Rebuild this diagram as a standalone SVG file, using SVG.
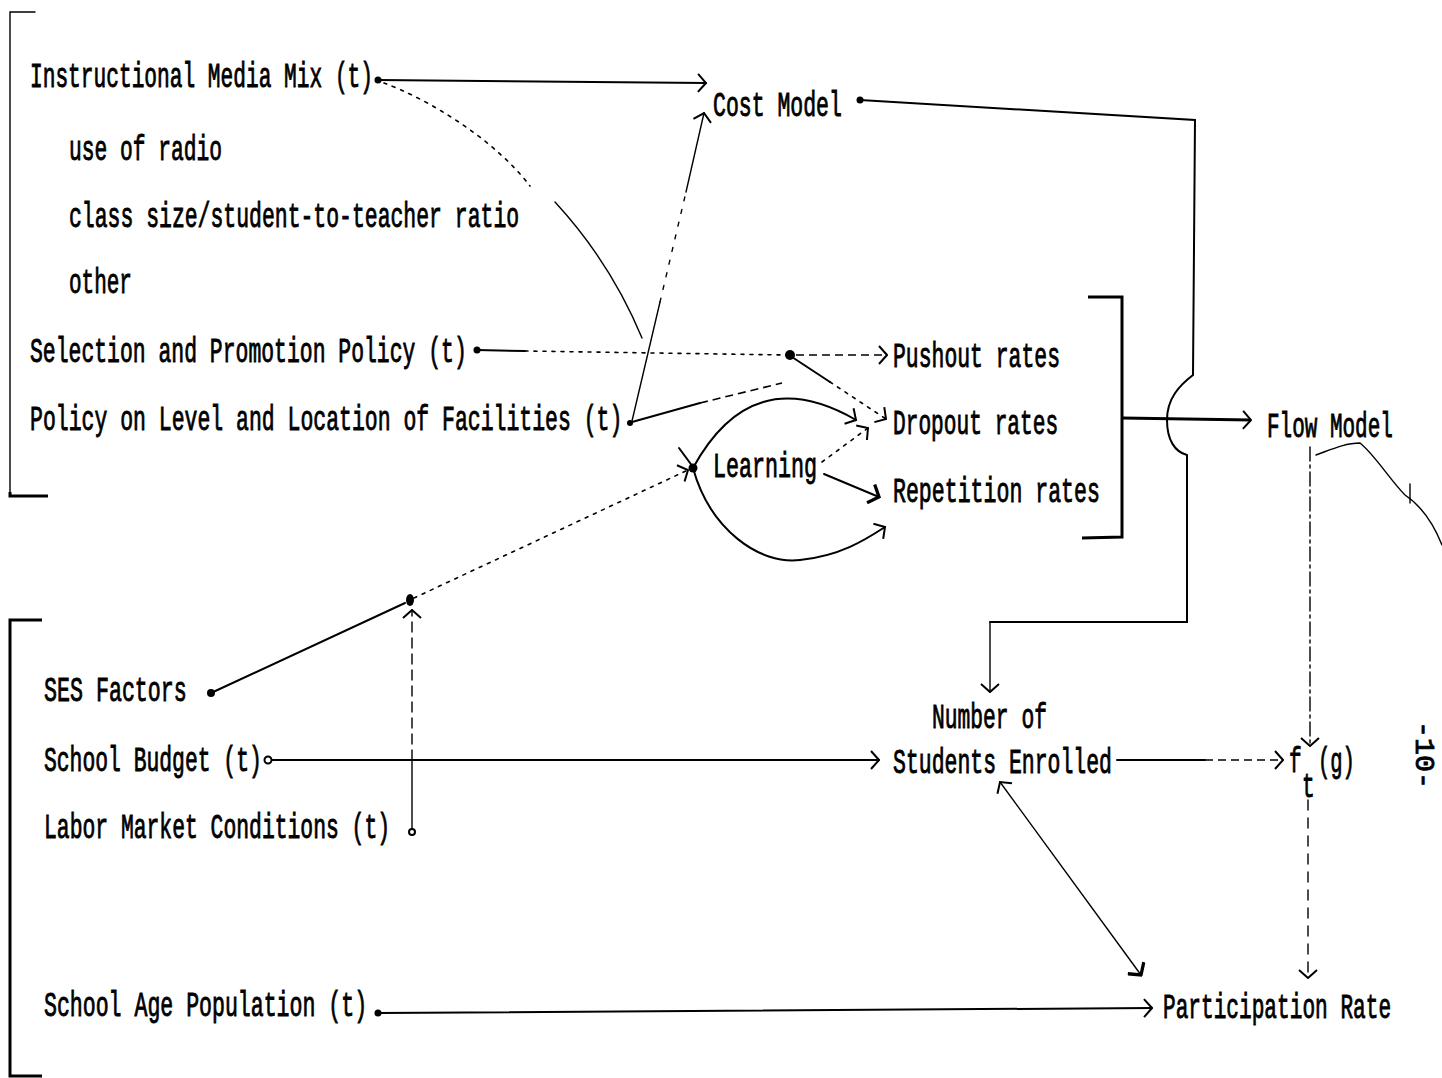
<svg xmlns="http://www.w3.org/2000/svg" width="1442" height="1078" viewBox="0 0 1442 1078">
<defs>
<style>
.t{font-family:"Liberation Mono","DejaVu Sans Mono",monospace;font-size:35px;fill:#000;stroke:#000;stroke-width:0.9}
.ln{fill:none;stroke:#000;stroke-width:2;stroke-linecap:round}
.th{fill:none;stroke:#000;stroke-width:1.4;stroke-linecap:round}
.bk{fill:none;stroke:#000;stroke-width:3}
.dt{fill:none;stroke:#000;stroke-width:1.6;stroke-dasharray:3 6;stroke-linecap:round}
.ds{fill:none;stroke:#000;stroke-width:1.6;stroke-dasharray:8 5}
.dot{fill:#000}
</style>
<marker id="ah" viewBox="0 0 10 20" refX="9" refY="10" markerWidth="10" markerHeight="20" markerUnits="userSpaceOnUse" orient="auto-start-reverse">
<path d="M1,1 L9,10 L1,19" fill="none" stroke="#000" stroke-width="2"/>
</marker>
<marker id="ahb" viewBox="0 0 10 20" refX="9" refY="10" markerWidth="12" markerHeight="22" markerUnits="userSpaceOnUse" orient="auto-start-reverse">
<path d="M1,1 L9,10 L1,19" fill="none" stroke="#000" stroke-width="3"/>
</marker>
</defs>
<rect width="1442" height="1078" fill="#fff"/>

<g id="brackets">
<path class="th" d="M35,12 L10,12 L10,492"/>
<path class="bk" d="M10,492 L10,496 L48,496"/>
<path class="bk" d="M42,620 L10,620 L10,1076 L42,1076"/>
<path class="bk" d="M1088,297 L1122,297 L1122,537 L1082,538"/>
</g>

<g id="n-media"><text class="t" transform="translate(30,87) scale(0.605,1)" textLength="567" lengthAdjust="spacingAndGlyphs">Instructional Media Mix (t)</text></g>
<g id="n-radio"><text class="t" transform="translate(69,160) scale(0.605,1)" textLength="253" lengthAdjust="spacingAndGlyphs">use of radio</text></g>
<g id="n-class"><text class="t" transform="translate(69,227) scale(0.605,1)" textLength="744" lengthAdjust="spacingAndGlyphs">class size/student-to-teacher ratio</text></g>
<g id="n-other"><text class="t" transform="translate(69,293) scale(0.605,1)" textLength="104" lengthAdjust="spacingAndGlyphs">other</text></g>
<g id="n-selection"><text class="t" transform="translate(30,362) scale(0.605,1)" textLength="722" lengthAdjust="spacingAndGlyphs">Selection and Promotion Policy (t)</text></g>
<g id="n-facilities"><text class="t" transform="translate(30,430) scale(0.605,1)" textLength="979" lengthAdjust="spacingAndGlyphs">Policy on Level and Location of Facilities (t)</text></g>
<g id="n-cost"><text class="t" transform="translate(713,116) scale(0.605,1)" textLength="213" lengthAdjust="spacingAndGlyphs">Cost Model</text></g>
<g id="n-pushout"><text class="t" transform="translate(893,367) scale(0.605,1)" textLength="276" lengthAdjust="spacingAndGlyphs">Pushout rates</text></g>
<g id="n-dropout"><text class="t" transform="translate(893,434) scale(0.605,1)" textLength="273" lengthAdjust="spacingAndGlyphs">Dropout rates</text></g>
<g id="n-repetition"><text class="t" transform="translate(893,502) scale(0.605,1)" textLength="342" lengthAdjust="spacingAndGlyphs">Repetition rates</text></g>
<g id="n-learning"><text class="t" transform="translate(713,477) scale(0.605,1)" textLength="172" lengthAdjust="spacingAndGlyphs">Learning</text></g>
<g id="n-flow"><text class="t" transform="translate(1267,437) scale(0.605,1)" textLength="208" lengthAdjust="spacingAndGlyphs">Flow Model</text></g>
<g id="n-ses"><text class="t" transform="translate(44,701) scale(0.605,1)" textLength="236" lengthAdjust="spacingAndGlyphs">SES Factors</text></g>
<g id="n-budget"><text class="t" transform="translate(44,771) scale(0.605,1)" textLength="360" lengthAdjust="spacingAndGlyphs">School Budget (t)</text></g>
<g id="n-labor"><text class="t" transform="translate(44,838) scale(0.605,1)" textLength="572" lengthAdjust="spacingAndGlyphs">Labor Market Conditions (t)</text></g>
<g id="n-enrolled">
<text class="t" transform="translate(932,728) scale(0.605,1)" textLength="190" lengthAdjust="spacingAndGlyphs">Number of</text>
<text class="t" transform="translate(893,773) scale(0.605,1)" textLength="362" lengthAdjust="spacingAndGlyphs">Students Enrolled</text>
</g>
<g id="n-ftg">
<text class="t" transform="translate(1289,772) scale(0.605,1)" textLength="21" lengthAdjust="spacingAndGlyphs">f</text>
<text class="t" transform="translate(1302,797) scale(0.605,1)" textLength="21" lengthAdjust="spacingAndGlyphs">t</text>
<text class="t" transform="translate(1318,772) scale(0.605,1)" textLength="61" lengthAdjust="spacingAndGlyphs">(g)</text>
</g>
<g id="n-population"><text class="t" transform="translate(44,1016) scale(0.605,1)" textLength="534" lengthAdjust="spacingAndGlyphs">School Age Population (t)</text></g>
<g id="n-participation"><text class="t" transform="translate(1163,1018) scale(0.605,1)" textLength="377" lengthAdjust="spacingAndGlyphs">Participation Rate</text></g>
<g id="page-number"><text class="t" style="font-size:28px" transform="translate(1416,721) rotate(90) scale(0.8,1)" textLength="85" lengthAdjust="spacingAndGlyphs">-10-</text></g>

<g id="connectors">
<!-- Instructional Media Mix -> Cost Model -->
<circle class="dot" cx="378" cy="80" r="3.5"/>
<path class="ln" d="M378,80 L706,83" marker-end="url(#ah)"/>
<!-- Instructional Media Mix curve down -->
<path class="dt" d="M384,83 C430,100 495,140 530,186"/>
<path class="th" d="M555,202 C590,240 620,285 642,338"/>
<!-- Facilities -> Cost Model -->
<path class="th" d="M632,421 L660,302"/>
<path class="th" d="M660,302 L686,192" stroke-dasharray="4 9"/>
<path class="th" d="M686,192 L704,113" marker-end="url(#ah)"/>
<!-- Facilities -> right -->
<circle class="dot" cx="630" cy="423" r="3"/>
<path class="ln" d="M632,422 L700,403"/>
<path class="ds" d="M700,403 L782,383"/>
<!-- Selection -> node -->
<circle class="dot" cx="477" cy="350" r="3.5"/>
<path class="ln" d="M477,350 L525,351"/>
<path class="dt" d="M525,351 L786,355"/>
<circle class="dot" cx="790" cy="355" r="5"/>
<path class="ds" d="M796,355 L887,355" marker-end="url(#ah)"/>
<path class="ln" d="M792,357 L830,382"/>
<path class="dt" d="M830,382 L886,419" marker-end="url(#ah)"/>
<!-- Learning loops -->
<circle class="dot" cx="693" cy="468" r="4.5"/>
<path class="ln" d="M679,448 L693,467"/>
<path class="ln" d="M693,468 Q752,360 856,420" marker-end="url(#ah)"/>
<path class="ln" d="M693,468 C710,530 760,565 800,560 C840,556 865,540 885,527" marker-end="url(#ah)"/>
<path class="dt" d="M822,462 L868,428" marker-end="url(#ah)"/>
<path class="ln" d="M824,474 L879,497" stroke-width="3" marker-end="url(#ahb)"/>
<!-- SES -> Learning -->
<circle class="dot" cx="211" cy="693" r="4"/>
<path class="ln" d="M211,693 L405,603"/>
<path class="dt" d="M414,598 L688,470" marker-end="url(#ah)"/>
<ellipse class="dot" cx="410" cy="600" rx="4" ry="6"/>
<!-- Labor -> junction -->
<circle cx="412" cy="832" r="3" fill="none" stroke="#000" stroke-width="2"/>
<path class="th" d="M412,829 L412,760"/>
<path class="th" d="M412,760 L412,610" stroke-dasharray="10 6" marker-end="url(#ah)"/>
<!-- School Budget -> Students Enrolled -->
<circle cx="268" cy="760" r="3.5" fill="none" stroke="#000" stroke-width="2"/>
<path class="ln" d="M272,760 L879,760" marker-end="url(#ah)"/>
<!-- rates bracket -> Flow Model -->
<path class="bk" d="M1122,418 L1251,420" marker-end="url(#ah)"/>
<!-- Cost Model -> Number of Students -->
<circle class="dot" cx="860" cy="100" r="3.5"/>
<path class="ln" d="M860,100 L1195,120 L1193,375 C1180,385 1167,398 1167,420 C1167,440 1175,452 1187,455 L1187,622 L990,622"/>
<path class="th" d="M990,622 L990,692" marker-end="url(#ah)"/>
<!-- Students Enrolled -> f_t(g) -->
<path class="ln" d="M1117,760 L1205,760"/>
<path class="ds" d="M1205,760 L1283,760" marker-end="url(#ah)"/>
<!-- Students Enrolled <-> Participation Rate -->
<path class="th" d="M1000,782 L1141,975" marker-start="url(#ah)" marker-end="url(#ahb)"/>
<!-- Flow Model -> f_t(g) -->
<path class="th" d="M1310,447 L1310,746" stroke-dasharray="14 4 3 4" marker-end="url(#ah)"/>
<!-- f_t(g) -> Participation Rate -->
<path class="th" d="M1308,800 L1308,978" stroke-dasharray="10 8" marker-end="url(#ah)"/>
<!-- School Age Population -> Participation Rate -->
<circle class="dot" cx="378" cy="1013" r="3.5"/>
<path class="ln" d="M378,1013 L1152,1008" marker-end="url(#ah)"/>
<!-- hand mark -->
<path class="th" d="M1316,455 C1330,450 1345,443 1360,443 C1375,455 1390,480 1405,495 C1420,505 1432,520 1442,545"/>
<path class="th" d="M1410,484 L1410,503"/>
</g>
</svg>
